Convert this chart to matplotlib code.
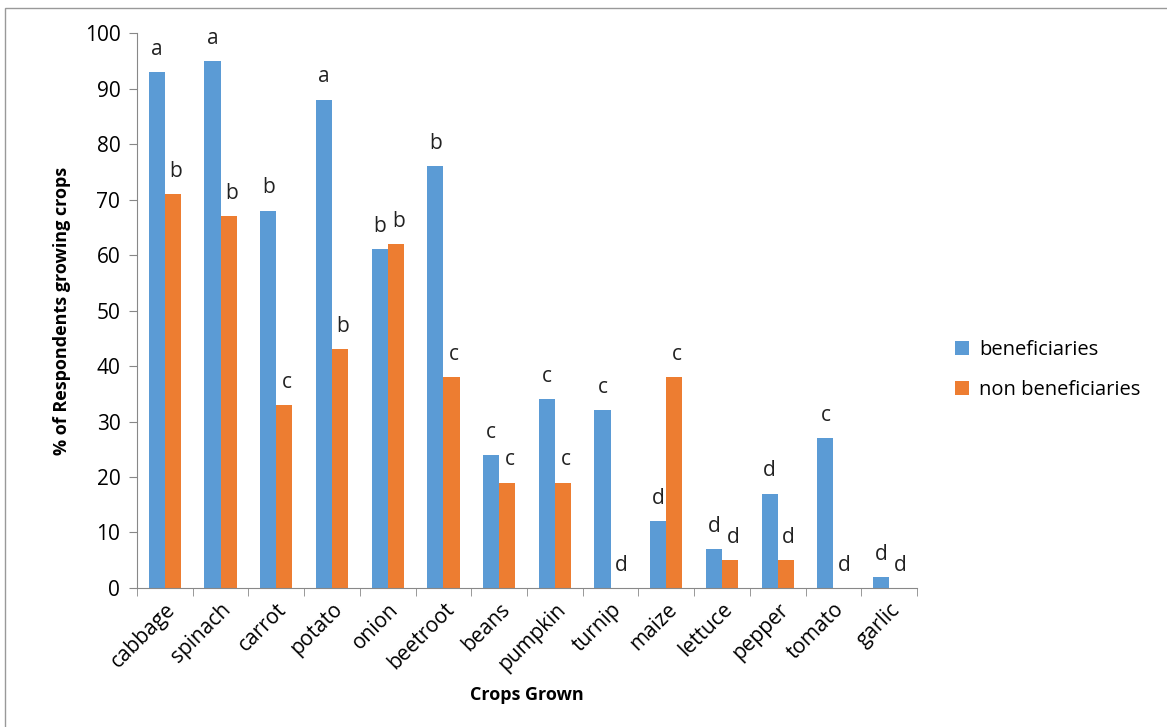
import matplotlib
matplotlib.use("Agg")
import matplotlib.pyplot as plt
import numpy as np
from matplotlib.patches import Rectangle

crops = ["cabbage", "spinach", "carrot", "potato", "onion", "beetroot", "beans",
         "pumpkin", "turnip", "maize", "lettuce", "pepper", "tomato", "garlic"]
beneficiaries = [93, 95, 68, 88, 61, 76, 24, 34, 32, 12, 7, 17, 27, 2]
non_beneficiaries = [71, 67, 33, 43, 62, 38, 19, 19, 0, 38, 5, 5, 0, 0]
ben_letters = ["a", "a", "b", "a", "b", "b", "c", "c", "c", "d", "d", "d", "c", "d"]
non_letters = ["b", "b", "c", "b", "b", "c", "c", "c", "d", "c", "d", "d", "d", "d"]

plt.rcParams['font.family'] = ['Open Sans', 'DejaVu Sans']

fig = plt.figure(figsize=(11.67, 7.27), dpi=100)
ax = fig.add_axes([0.1174, 0.1912, 0.7858 - 0.1174, 0.9546 - 0.1912])

blue = "#5B9BD5"
orange = "#ED7D31"
x = np.arange(len(crops))
w = 0.29
ax.bar(x - w / 2, beneficiaries, w, color=blue, label="beneficiaries")
ax.bar(x + w / 2, non_beneficiaries, w, color=orange, label="non beneficiaries")

for xi, v, l in zip(x, beneficiaries, ben_letters):
    ax.text(xi - w / 2, v + 2.2, l, ha="center", va="bottom", fontsize=15, color="#222222")
for xi, v, l in zip(x, non_beneficiaries, non_letters):
    ax.text(xi + w / 2 + 0.05, v + 2.2, l, ha="center", va="bottom", fontsize=15, color="#222222")

ax.set_xlim(-0.5, len(crops) - 0.5)
ax.set_ylim(0, 100)
ax.set_yticks(np.arange(0, 101, 10))
ax.tick_params(axis="y", labelsize=15, length=6, color="#888888", direction="out", pad=6)
ax.set_xticks(x)
ax.set_xticklabels(crops, rotation=45, ha="right", rotation_mode="anchor", fontsize=15)
ax.tick_params(axis="x", length=0, pad=8)
ax.set_xticks(np.arange(-0.5, len(crops), 1), minor=True)
ax.tick_params(axis="x", which="minor", length=6, color="#888888", direction="out")

for s in ["top", "right"]:
    ax.spines[s].set_visible(False)
for s in ["left", "bottom"]:
    ax.spines[s].set_color("#888888")

ax.set_ylabel("% of Respondents growing crops", fontsize=13, fontweight="bold", labelpad=10)
ax.set_xlabel("Crops Grown", fontsize=13, fontweight="bold", labelpad=8)

ax.legend(loc="center left", bbox_to_anchor=(1.025, 0.393), frameon=False,
          fontsize=14.5, handlelength=0.7, handleheight=0.7, labelspacing=1.0,
          handletextpad=0.5)

fig.patches.append(Rectangle((5 / 1167, -0.1), 1.2, 1 - 8 / 727 + 0.1,
                             transform=fig.transFigure, fill=False,
                             edgecolor="#999999", linewidth=1))

fig.savefig("out.png", dpi=100)
